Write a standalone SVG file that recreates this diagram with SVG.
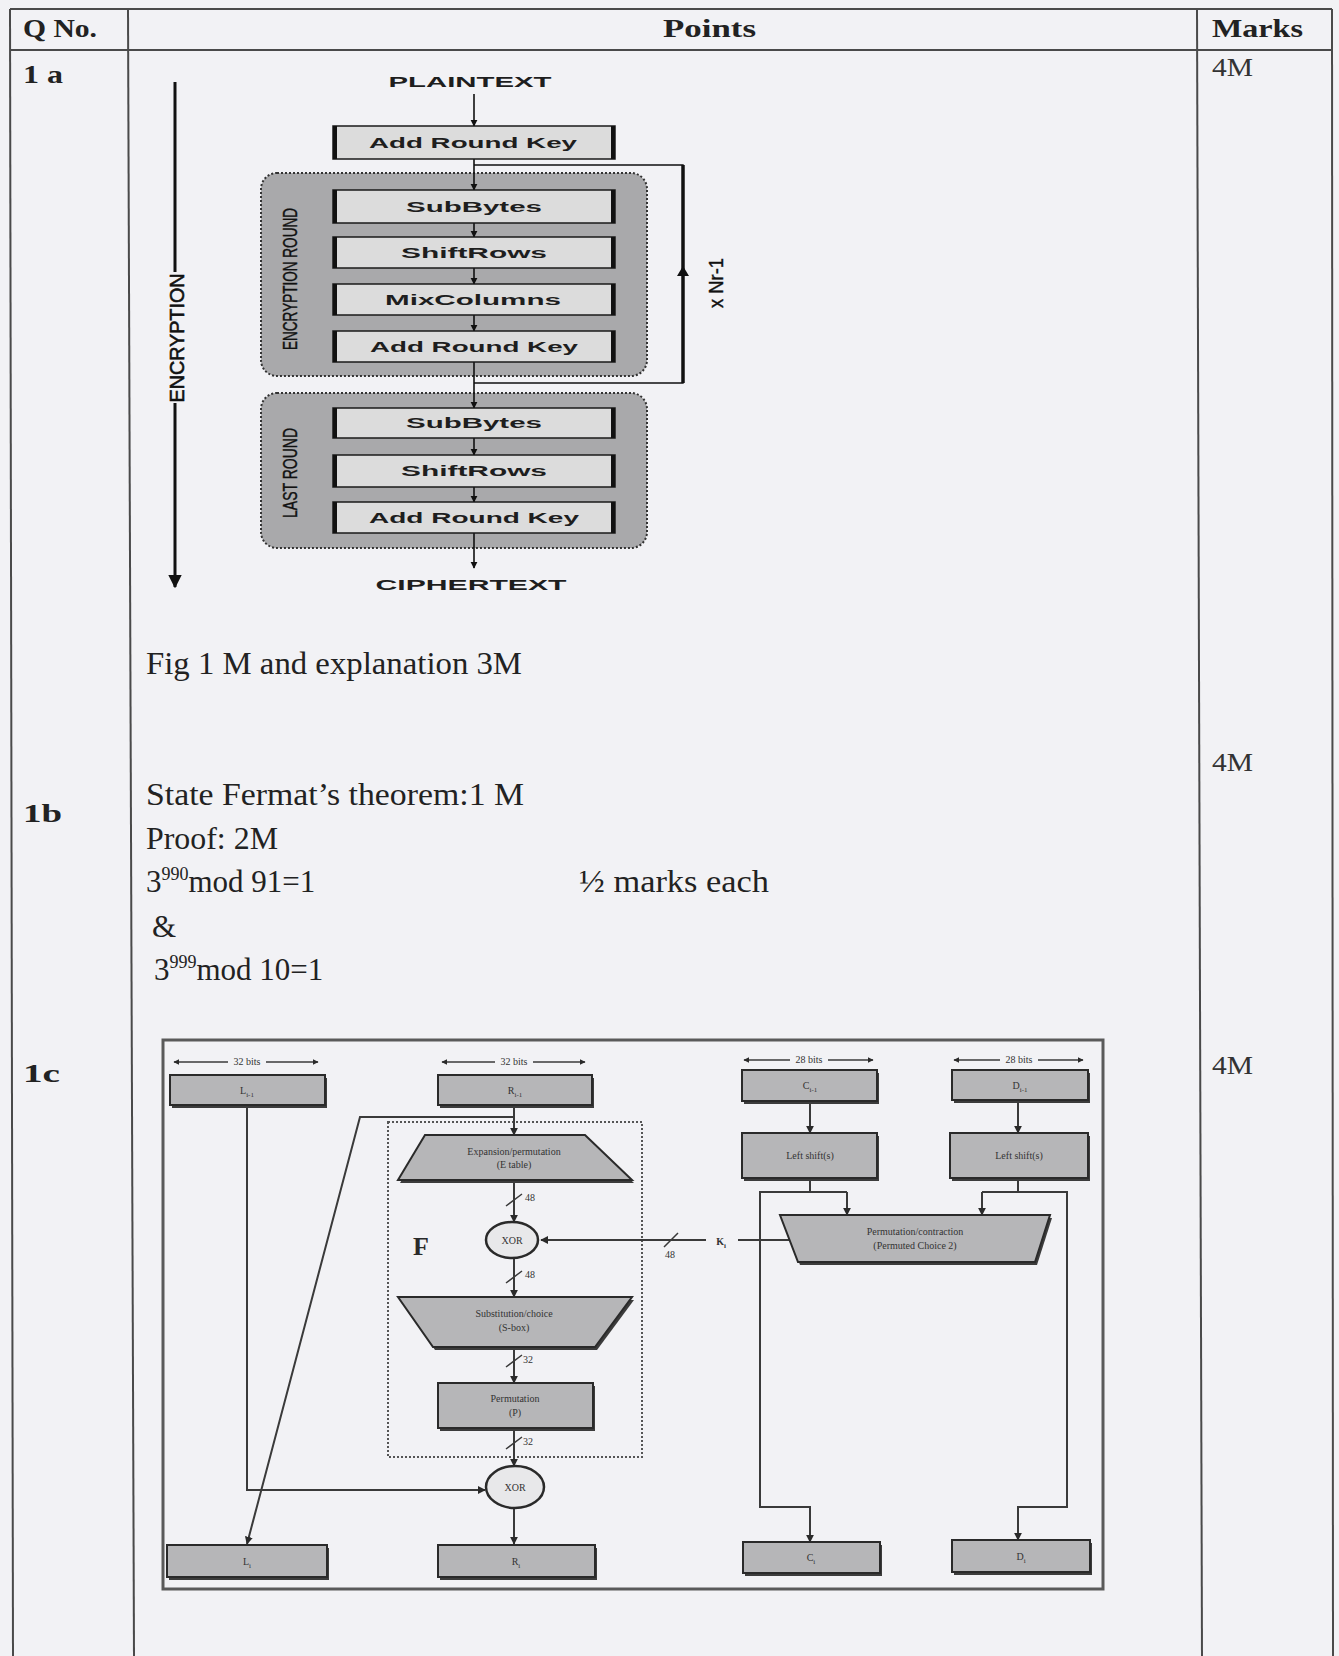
<svg xmlns="http://www.w3.org/2000/svg" width="1339" height="1656" viewBox="0 0 1339 1656">
<defs>
<marker id="ah" viewBox="0 0 10 10" refX="9" refY="5" markerWidth="4.5" markerHeight="4.5" orient="auto-start-reverse"><path d="M0,0 L10,5 L0,10 z" fill="#111"/></marker>
<marker id="dh" viewBox="0 0 10 10" refX="9" refY="5" markerWidth="4" markerHeight="4" orient="auto-start-reverse"><path d="M0,0 L10,5 L0,10 z" fill="#2a2a2a"/></marker>
</defs>
<style>
.tbl{stroke:#4a4a4a;stroke-width:2;fill:none}
.hdr{font-family:"Liberation Serif",serif;font-weight:bold;font-size:26px;fill:#222}
.qn{font-family:"Liberation Serif",serif;font-weight:bold;font-size:26px;fill:#222}
.mk{font-family:"Liberation Serif",serif;font-size:25px;fill:#333}
.body{font-family:"Liberation Serif",serif;font-size:31px;fill:#222}
.abox{fill:#dcdcdc;stroke:#1a1a1a;stroke-width:1.5}
.aside{stroke:#111;stroke-width:4;fill:none}
.alabel{font-family:"Liberation Sans",sans-serif;font-weight:bold;font-size:14px;fill:#1e1e1e;text-anchor:middle}
.cont{fill:#a9a9ab;stroke:#333;stroke-width:2;stroke-dasharray:2 2}
.vlab{font-family:"Liberation Sans",sans-serif;font-size:20px;fill:#111;text-anchor:middle}
.aln{stroke:#111;stroke-width:1.6;fill:none}
.dbox{fill:#b6b6b8;stroke:#2a2a2a;stroke-width:2}
.dsh{fill:#3c3c3c}
.dl{font-family:"Liberation Serif",serif;font-size:10px;fill:#333;text-anchor:middle}
.dln{stroke:#3a3a3a;stroke-width:2;fill:none}
.dim{stroke:#3a3a3a;stroke-width:1.5;fill:none}
</style>
<rect x="0" y="0" width="1339" height="1656" fill="#f2f2f5"/>

<g id="table">
<line class="tbl" x1="10" y1="9" x2="1332" y2="9"/>
<line class="tbl" x1="10" y1="50" x2="1332" y2="50"/>
<line class="tbl" x1="10" y1="9" x2="13" y2="1656"/>
<line class="tbl" x1="128" y1="9" x2="134" y2="1656"/>
<line class="tbl" x1="1197" y1="9" x2="1202" y2="1656"/>
<line class="tbl" x1="1332" y1="9" x2="1333" y2="1656"/>
<text class="hdr" x="23" y="37" textLength="74" lengthAdjust="spacingAndGlyphs">Q No.</text>
<text class="hdr" x="663" y="37" textLength="93" lengthAdjust="spacingAndGlyphs">Points</text>
<text class="hdr" x="1212" y="37" textLength="91" lengthAdjust="spacingAndGlyphs">Marks</text>
<text class="qn" x="23" y="83" textLength="40" lengthAdjust="spacingAndGlyphs">1 a</text>
<text class="qn" x="23" y="822" textLength="39" lengthAdjust="spacingAndGlyphs">1b</text>
<text class="qn" x="23" y="1082" textLength="37" lengthAdjust="spacingAndGlyphs">1c</text>
<text class="mk" x="1212" y="76" textLength="41" lengthAdjust="spacingAndGlyphs">4M</text>
<text class="mk" x="1212" y="771" textLength="41" lengthAdjust="spacingAndGlyphs">4M</text>
<text class="mk" x="1212" y="1074" textLength="41" lengthAdjust="spacingAndGlyphs">4M</text>
</g>

<g id="text-1a-1b">
<text class="body" x="146" y="674" textLength="376" lengthAdjust="spacingAndGlyphs">Fig 1 M and explanation 3M</text>
<text class="body" x="146" y="805" textLength="378" lengthAdjust="spacingAndGlyphs">State Fermat’s theorem:1 M</text>
<text class="body" x="146" y="849" textLength="132" lengthAdjust="spacingAndGlyphs">Proof: 2M</text>
<text class="body" x="146" y="892">3<tspan font-size="18" dy="-12">990</tspan><tspan dy="12">mod 91=1</tspan></text>
<text class="body" x="579" y="892" textLength="190" lengthAdjust="spacingAndGlyphs">½ marks each</text>
<text class="body" x="152" y="937">&amp;</text>
<text class="body" x="154" y="980">3<tspan font-size="18" dy="-12">999</tspan><tspan dy="12">mod 10=1</tspan></text>
</g>

<g id="aes-containers">
<rect class="cont" x="261" y="173" width="386" height="203" rx="16"/>
<rect class="cont" x="261" y="393" width="386" height="155" rx="16"/>
</g>
<g id="aes-connectors">
<line class="aln" x1="175" y1="82" x2="175" y2="272" style="stroke-width:3"/>
<line class="aln" x1="175" y1="403" x2="175" y2="587" style="stroke-width:3" marker-end="url(#ah)"/>
<line class="aln" x1="474" y1="94" x2="474" y2="126" marker-end="url(#ah)"/>
<line class="aln" x1="474" y1="159" x2="474" y2="190" marker-end="url(#ah)"/>
<line class="aln" x1="474" y1="223" x2="474" y2="237" marker-end="url(#ah)"/>
<line class="aln" x1="474" y1="268" x2="474" y2="284" marker-end="url(#ah)"/>
<line class="aln" x1="474" y1="315" x2="474" y2="331" marker-end="url(#ah)"/>
<line class="aln" x1="474" y1="362" x2="474" y2="408" marker-end="url(#ah)"/>
<line class="aln" x1="474" y1="438" x2="474" y2="455" marker-end="url(#ah)"/>
<line class="aln" x1="474" y1="487" x2="474" y2="502" marker-end="url(#ah)"/>
<line class="aln" x1="474" y1="533" x2="474" y2="568" marker-end="url(#ah)"/>
<polyline class="aln" points="474,165 683,165 683,383 474,383" style="stroke-width:1.4"/>
<line x1="683" y1="383" x2="683" y2="165" stroke="#111" stroke-width="3.5"/>
<path d="M677,276 L683,266 L689,276 z" fill="#111"/>
</g>
<g id="aes-labels">
<text class="alabel" x="470" y="87" font-size="13" textLength="163" lengthAdjust="spacingAndGlyphs">PLAINTEXT</text>
<text class="alabel" x="471" y="590" font-size="17" textLength="191" lengthAdjust="spacingAndGlyphs">CIPHERTEXT</text>
<text class="vlab" transform="translate(184,338) rotate(-90)" font-size="28" textLength="129" lengthAdjust="spacingAndGlyphs" stroke="#111" stroke-width="0.6">ENCRYPTION</text>
<text class="vlab" transform="translate(297,279) rotate(-90)" font-size="19" textLength="142" lengthAdjust="spacingAndGlyphs" stroke="#111" stroke-width="0.4">ENCRYPTION ROUND</text>
<text class="vlab" transform="translate(297,473) rotate(-90)" font-size="19" textLength="90" lengthAdjust="spacingAndGlyphs" stroke="#111" stroke-width="0.4">LAST ROUND</text>
<text class="vlab" transform="translate(723,283) rotate(-90)" font-size="19" textLength="50" lengthAdjust="spacingAndGlyphs" stroke="#111" stroke-width="0.4">x Nr-1</text>
</g>
<g id="aes-box-ark0"><rect class="abox" x="333" y="126" width="282" height="33"/><path class="aside" d="M335,126 V159 M613,126 V159"/><text class="alabel" x="473" y="148" textLength="208" lengthAdjust="spacingAndGlyphs">Add Round Key</text></g>
<g id="aes-box-sb1"><rect class="abox" x="333" y="190" width="282" height="33"/><path class="aside" d="M335,190 V223 M613,190 V223"/><text class="alabel" x="474" y="212" textLength="136" lengthAdjust="spacingAndGlyphs">SubBytes</text></g>
<g id="aes-box-sr1"><rect class="abox" x="333" y="237" width="282" height="31"/><path class="aside" d="M335,237 V268 M613,237 V268"/><text class="alabel" x="474" y="258" textLength="146" lengthAdjust="spacingAndGlyphs">ShiftRows</text></g>
<g id="aes-box-mc1"><rect class="abox" x="333" y="284" width="282" height="31"/><path class="aside" d="M335,284 V315 M613,284 V315"/><text class="alabel" x="473" y="305" textLength="176" lengthAdjust="spacingAndGlyphs">MixColumns</text></g>
<g id="aes-box-ark1"><rect class="abox" x="333" y="331" width="282" height="31"/><path class="aside" d="M335,331 V362 M613,331 V362"/><text class="alabel" x="474" y="352" textLength="208" lengthAdjust="spacingAndGlyphs">Add Round Key</text></g>
<g id="aes-box-sb2"><rect class="abox" x="333" y="408" width="282" height="30"/><path class="aside" d="M335,408 V438 M613,408 V438"/><text class="alabel" x="474" y="428" textLength="136" lengthAdjust="spacingAndGlyphs">SubBytes</text></g>
<g id="aes-box-sr2"><rect class="abox" x="333" y="455" width="282" height="32"/><path class="aside" d="M335,455 V487 M613,455 V487"/><text class="alabel" x="474" y="476" textLength="146" lengthAdjust="spacingAndGlyphs">ShiftRows</text></g>
<g id="aes-box-ark2"><rect class="abox" x="333" y="502" width="282" height="31"/><path class="aside" d="M335,502 V533 M613,502 V533"/><text class="alabel" x="474" y="523" textLength="210" lengthAdjust="spacingAndGlyphs">Add Round Key</text></g>

<g id="des-frame">
<rect x="163" y="1040" width="940" height="549" fill="none" stroke="#5a5a5a" stroke-width="3"/>
<rect x="388" y="1122" width="254" height="335" fill="none" stroke="#555" stroke-width="2" stroke-dasharray="2 2"/>
<text x="413" y="1255" font-family="Liberation Serif, serif" font-weight="bold" font-size="26" fill="#2a2a2a">F</text>
</g>
<g id="des-connectors">
<line class="dim" x1="174" y1="1062" x2="228" y2="1062" marker-start="url(#dh)"/><line class="dim" x1="266" y1="1062" x2="318" y2="1062" marker-end="url(#dh)"/>
<line class="dim" x1="442" y1="1062" x2="495" y2="1062" marker-start="url(#dh)"/><line class="dim" x1="533" y1="1062" x2="585" y2="1062" marker-end="url(#dh)"/>
<line class="dim" x1="744" y1="1060" x2="790" y2="1060" marker-start="url(#dh)"/><line class="dim" x1="828" y1="1060" x2="873" y2="1060" marker-end="url(#dh)"/>
<line class="dim" x1="954" y1="1060" x2="1000" y2="1060" marker-start="url(#dh)"/><line class="dim" x1="1038" y1="1060" x2="1083" y2="1060" marker-end="url(#dh)"/>
<line class="dln" x1="514" y1="1107" x2="514" y2="1135" marker-end="url(#dh)"/>
<polyline class="dln" points="514,1117 360,1117 247,1544" marker-end="url(#dh)"/>
<line class="dln" x1="514" y1="1180" x2="514" y2="1222" marker-end="url(#dh)"/>
<line class="dln" x1="514" y1="1258" x2="514" y2="1297" marker-end="url(#dh)"/>
<line class="dln" x1="514" y1="1347" x2="514" y2="1383" marker-end="url(#dh)"/>
<line class="dln" x1="514" y1="1428" x2="514" y2="1466" marker-end="url(#dh)"/>
<line class="dln" x1="514" y1="1508" x2="514" y2="1544" marker-end="url(#dh)"/>
<polyline class="dln" points="247,1107 247,1490 485,1490" marker-end="url(#dh)"/>
<line class="dln" x1="790" y1="1240" x2="738" y2="1240"/>
<line class="dln" x1="706" y1="1240" x2="541" y2="1240" marker-end="url(#dh)"/>
<line class="dln" x1="810" y1="1104" x2="810" y2="1133" marker-end="url(#dh)"/>
<line class="dln" x1="1018" y1="1102" x2="1018" y2="1133" marker-end="url(#dh)"/>
<polyline class="dln" points="810,1180 810,1192"/>
<polyline class="dln" points="847,1192 847,1215" marker-end="url(#dh)"/>
<polyline class="dln" points="847,1192 760,1192 760,1507 810,1507 810,1542" marker-end="url(#dh)"/>
<polyline class="dln" points="1018,1178 1018,1192"/>
<polyline class="dln" points="982,1192 982,1215" marker-end="url(#dh)"/>
<polyline class="dln" points="982,1192 1067,1192 1067,1507 1018,1507 1018,1540" marker-end="url(#dh)"/>
<path class="dln" d="M506,1206 L522,1194 M506,1283 L522,1271 M506,1367 L522,1355 M506,1449 L522,1437 M664,1247 L678,1233" style="stroke-width:1.5"/>
<text class="dl" x="530" y="1201" text-anchor="start">48</text>
<text class="dl" x="530" y="1278" text-anchor="start">48</text>
<text class="dl" x="528" y="1363" text-anchor="start">32</text>
<text class="dl" x="528" y="1445" text-anchor="start">32</text>
<text class="dl" x="670" y="1258">48</text>
<text class="dl" x="721" y="1245" font-weight="bold">K<tspan font-size="7" dy="3">i</tspan></text>
<text class="dl" x="247" y="1065" font-size="8">32 bits</text>
<text class="dl" x="514" y="1065" font-size="8">32 bits</text>
<text class="dl" x="809" y="1063" font-size="8">28 bits</text>
<text class="dl" x="1019" y="1063" font-size="8">28 bits</text>
</g>
<g id="des-L0"><rect class="dsh" x="172" y="1078" width="155" height="30"/><rect class="dbox" x="170" y="1075" width="155" height="30"/><text class="dl" x="247" y="1094">L<tspan font-size="7" dy="3">i-1</tspan></text></g>
<g id="des-R0"><rect class="dsh" x="440" y="1078" width="154" height="30"/><rect class="dbox" x="438" y="1075" width="154" height="30"/><text class="dl" x="515" y="1094">R<tspan font-size="7" dy="3">i-1</tspan></text></g>
<g id="des-C0"><rect class="dsh" x="744" y="1073" width="135" height="31"/><rect class="dbox" x="742" y="1070" width="135" height="31"/><text class="dl" x="810" y="1089">C<tspan font-size="7" dy="3">i-1</tspan></text></g>
<g id="des-D0"><rect class="dsh" x="954" y="1073" width="136" height="30"/><rect class="dbox" x="952" y="1070" width="136" height="30"/><text class="dl" x="1020" y="1089">D<tspan font-size="7" dy="3">i-1</tspan></text></g>
<g id="des-LSC"><rect class="dsh" x="744" y="1136" width="135" height="45"/><rect class="dbox" x="742" y="1133" width="135" height="45"/><text class="dl" x="810" y="1159">Left shift(s)</text></g>
<g id="des-LSD"><rect class="dsh" x="952" y="1136" width="138" height="45"/><rect class="dbox" x="950" y="1133" width="138" height="45"/><text class="dl" x="1019" y="1159">Left shift(s)</text></g>
<g id="des-E"><polygon points="427,1138 587,1138 634,1183 400,1183" class="dsh"/><polygon class="dbox" points="425,1135 585,1135 632,1180 398,1180"/><text class="dl" x="514" y="1155">Expansion/permutation</text><text class="dl" x="514" y="1168">(E table)</text></g>
<g id="des-XOR1"><ellipse cx="512" cy="1240" rx="26" ry="18" fill="#e8e8ea" stroke="#2a2a2a" stroke-width="2.5"/><text class="dl" x="512" y="1244">XOR</text></g>
<g id="des-S"><polygon class="dsh" points="400,1300 634,1300 597,1350 435,1350"/><polygon class="dbox" points="398,1297 632,1297 595,1347 433,1347"/><text class="dl" x="514" y="1317">Substitution/choice</text><text class="dl" x="514" y="1331">(S-box)</text></g>
<g id="des-P"><rect class="dsh" x="440" y="1386" width="155" height="45"/><rect class="dbox" x="438" y="1383" width="155" height="45"/><text class="dl" x="515" y="1402">Permutation</text><text class="dl" x="515" y="1416">(P)</text></g>
<g id="des-XOR2"><ellipse cx="515" cy="1487" rx="29" ry="21" fill="#e8e8ea" stroke="#2a2a2a" stroke-width="2.5"/><text class="dl" x="515" y="1491">XOR</text></g>
<g id="des-PC2"><polygon class="dsh" points="782,1218 1052,1218 1037,1265 800,1265"/><polygon class="dbox" points="780,1215 1050,1215 1035,1262 798,1262"/><text class="dl" x="915" y="1235">Permutation/contraction</text><text class="dl" x="915" y="1249">(Permuted Choice 2)</text></g>
<g id="des-L1"><rect class="dsh" x="169" y="1548" width="160" height="32"/><rect class="dbox" x="167" y="1545" width="160" height="32"/><text class="dl" x="247" y="1565">L<tspan font-size="7" dy="3">i</tspan></text></g>
<g id="des-R1"><rect class="dsh" x="440" y="1548" width="157" height="32"/><rect class="dbox" x="438" y="1545" width="157" height="32"/><text class="dl" x="516" y="1565">R<tspan font-size="7" dy="3">i</tspan></text></g>
<g id="des-C1"><rect class="dsh" x="745" y="1545" width="137" height="31"/><rect class="dbox" x="743" y="1542" width="137" height="31"/><text class="dl" x="811" y="1561">C<tspan font-size="7" dy="3">i</tspan></text></g>
<g id="des-D1"><rect class="dsh" x="954" y="1543" width="138" height="32"/><rect class="dbox" x="952" y="1540" width="138" height="32"/><text class="dl" x="1021" y="1560">D<tspan font-size="7" dy="3">i</tspan></text></g>
</svg>
